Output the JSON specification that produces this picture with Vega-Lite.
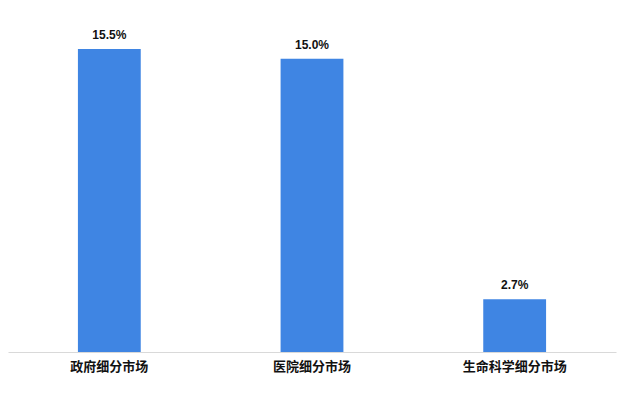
{
  "$schema": "https://vega.github.io/schema/vega-lite/v6.json",
  "width": 608,
  "height": 352,
  "autosize": {"type": "none"},
  "padding": {"left": 8, "top": 0, "right": 17, "bottom": 55},
  "background": "#ffffff",
  "config": {
    "view": {"stroke": null},
    "font": "Noto Sans CJK SC"
  },
  "data": {
    "values": [
      {"segment": "政府细分市场", "share": 15.5},
      {"segment": "医院细分市场", "share": 15.0},
      {"segment": "生命科学细分市场", "share": 2.7}
    ]
  },
  "encoding": {
    "x": {
      "field": "segment",
      "type": "nominal",
      "sort": null,
      "scale": {"paddingInner": 0.69, "paddingOuter": 0.345},
      "axis": {
        "title": null,
        "labelAngle": 0,
        "labelFont": "Noto Sans CJK SC",
        "labelFontSize": 13,
        "labelFontWeight": "bold",
        "labelColor": "#111111",
        "labelPadding": 8,
        "ticks": false,
        "domainColor": "#d9d9d9",
        "domainWidth": 1
      }
    },
    "y": {
      "field": "share",
      "type": "quantitative",
      "scale": {"domain": [0, 18], "nice": false},
      "axis": null
    }
  },
  "layer": [
    {"mark": {"type": "bar", "color": "#3f85e3"}},
    {
      "transform": [
        {"calculate": "format(datum.share, '.1f') + '%'", "as": "share_label"}
      ],
      "mark": {
        "type": "text",
        "baseline": "bottom",
        "dy": -7,
        "font": "Liberation Sans",
        "fontSize": 12,
        "fontWeight": "bold",
        "color": "#111111"
      },
      "encoding": {
        "text": {"field": "share_label", "type": "nominal"}
      }
    }
  ]
}
